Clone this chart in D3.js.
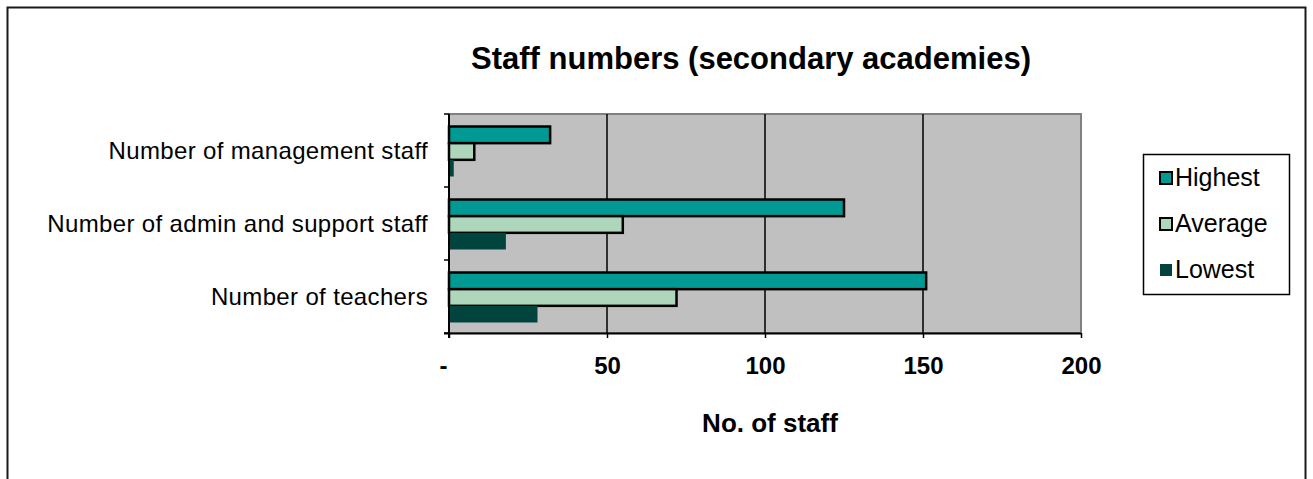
<!DOCTYPE html>
<html>
<head>
<meta charset="utf-8">
<script src="https://cdn.jsdelivr.net/npm/d3@7"></script>
<style>
  html, body { margin: 0; padding: 0; background: #fff; }
  svg { display: block; }
  text { font-family: Arial, "Liberation Sans", sans-serif; fill: #000; }
</style>
</head>
<body>
<svg id="chart" width="1313" height="479"></svg>
<script>
// Staff numbers per category (secondary academies)
const categories = ["Number of management staff", "Number of admin and support staff", "Number of teachers"];
const seriesNames = ["Highest", "Average", "Lowest"];
const highest = [32, 125, 151];
const average = [8, 55, 72];
const lowest = [1.5, 18, 28];
const xTicks = [0, 50, 100, 150, 200];
const xTickLabels = ["-", "50", "100", "150", "200"];

const seriesValues = [highest, average, lowest];
const colors = { Highest: "#009993", Average: "#AED6BB", Lowest: "#00443D" };
const outlined = { Highest: true, Average: true, Lowest: false };

const svg = d3.select("#chart");

// chart frame
svg.append("rect")
  .attr("x", 7.5).attr("y", 7.5)
  .attr("width", 1298).attr("height", 520)
  .attr("fill", "#fff").attr("stroke", "#1a1a1a").attr("stroke-width", 2);

const plot = { left: 449, right: 1081, top: 114, bottom: 333 };

const x = d3.scaleLinear().domain([0, 200]).range([plot.left, plot.right]);
const y = d3.scaleBand().domain(categories).range([plot.top, plot.bottom]);
const yInner = d3.scaleBand().domain(seriesNames).range([12.5, 62.5]);

// plot background
svg.append("rect")
  .attr("x", plot.left).attr("y", plot.top)
  .attr("width", plot.right - plot.left).attr("height", plot.bottom - plot.top)
  .attr("fill", "#C0C0C0").attr("stroke", "#808080").attr("stroke-width", 2);

// vertical gridlines
svg.append("g").selectAll("line")
  .data(xTicks.slice(1, -1))
  .join("line")
  .attr("x1", d => x(d)).attr("x2", d => x(d))
  .attr("y1", plot.top).attr("y2", plot.bottom)
  .attr("stroke", "#000").attr("stroke-width", 1.5);

// bars
const rows = [];
categories.forEach((c, i) => {
  seriesNames.forEach((s, j) => rows.push({ cat: c, series: s, value: seriesValues[j][i] }));
});

svg.append("g").selectAll("rect")
  .data(rows)
  .join("rect")
  .attr("x", x(0))
  .attr("y", d => y(d.cat) + yInner(d.series))
  .attr("width", d => x(d.value) - x(0))
  .attr("height", yInner.bandwidth())
  .attr("fill", d => colors[d.series])
  .attr("stroke", d => outlined[d.series] ? "#000" : "none")
  .attr("stroke-width", 2.5);

// x axis
const xAxis = d3.axisBottom(x)
  .tickValues(xTicks)
  .tickFormat((d, i) => xTickLabels[i])
  .tickSizeInner(5).tickSizeOuter(0).tickPadding(19);

const gx = svg.append("g")
  .attr("transform", `translate(0,${plot.bottom})`)
  .call(xAxis);
gx.select(".domain").attr("stroke", "#000").attr("stroke-width", 2)
  .attr("d", `M${plot.left - 5},0.5H${plot.right}`);
gx.selectAll(".tick line").attr("stroke", "#000").attr("stroke-width", 1.5);
gx.selectAll(".tick text")
  .style("font-family", "Arial, 'Liberation Sans', sans-serif")
  .style("font-size", "24px").style("font-weight", "bold").attr("fill", "#000")
  .attr("dx", (d, i) => i === 0 ? -6 : 0);

// y axis (ticks on band boundaries)
const gy = svg.append("g");
gy.append("line")
  .attr("x1", plot.left).attr("x2", plot.left)
  .attr("y1", plot.top).attr("y2", plot.bottom + 5)
  .attr("stroke", "#000").attr("stroke-width", 2);
const boundaries = categories.map(c => y(c)).concat([plot.bottom]);
gy.selectAll("line.tick")
  .data(boundaries)
  .join("line").attr("class", "tick")
  .attr("x1", plot.left - 5).attr("x2", plot.left)
  .attr("y1", d => d).attr("y2", d => d)
  .attr("stroke", "#000").attr("stroke-width", 1.5);

gy.selectAll("text")
  .data(categories)
  .join("text")
  .attr("x", 428)
  .attr("y", d => y(d) + y.bandwidth() / 2 + 8)
  .attr("text-anchor", "end")
  .style("font-size", "24px")
  .style("letter-spacing", "0.35px")
  .text(d => d);

// title
svg.append("text")
  .attr("x", 751).attr("y", 69)
  .attr("text-anchor", "middle")
  .style("font-size", "31px").style("font-weight", "bold")
  .text("Staff numbers (secondary academies)");

// axis title
svg.append("text")
  .attr("x", 770).attr("y", 432)
  .attr("text-anchor", "middle")
  .style("font-size", "26px").style("font-weight", "bold")
  .text("No. of staff");

// legend
const legend = svg.append("g");
legend.append("rect")
  .attr("x", 1143.5).attr("y", 154.5)
  .attr("width", 146).attr("height", 140)
  .attr("fill", "#fff").attr("stroke", "#000").attr("stroke-width", 1.5);

const items = legend.selectAll("g.item")
  .data(seriesNames)
  .join("g").attr("class", "item")
  .attr("transform", (d, i) => `translate(1160,${172 + i * 46})`);
items.append("rect")
  .attr("width", 12).attr("height", 12)
  .attr("fill", d => colors[d])
  .attr("stroke", d => outlined[d] ? "#000" : "none")
  .attr("stroke-width", 2);
items.append("text")
  .attr("x", 15).attr("y", 14)
  .style("font-size", "25px")
  .text(d => d);
</script>
</body>
</html>
